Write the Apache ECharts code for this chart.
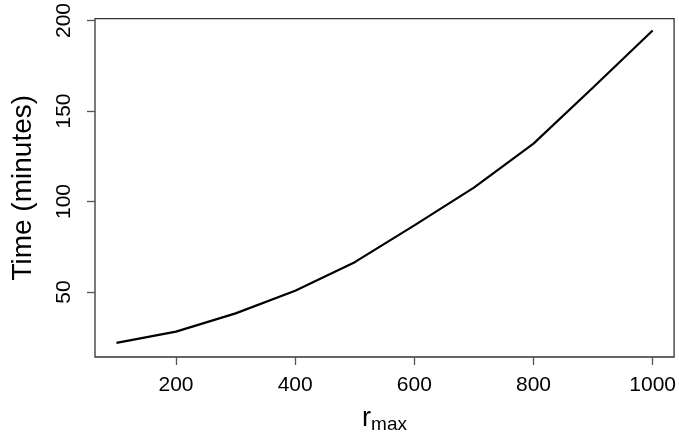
<!DOCTYPE html>
<html>
<head>
<meta charset="utf-8">
<script src="https://cdn.jsdelivr.net/npm/echarts@6/dist/echarts.min.js"></script>
<style>
html,body{margin:0;padding:0;background:#fff;}
#main{width:679px;height:439px;}
</style>
</head>
<body>
<div id="main"></div>
<script>
var rmax = [100, 200, 300, 400, 500, 600, 700, 800, 900, 1000];
var timeMin = [21.9, 28.1, 38.2, 50.7, 66.5, 86.8, 107.7, 132, 163, 194.5];
var xTicks = [200, 400, 600, 800, 1000];
var yTicks = [50, 100, 150, 200];

var font = 'Liberation Sans, Arial, sans-serif';
var myChart = echarts.init(document.getElementById('main'));
var option = {
	backgroundColor: '#fff',
	animation: false,
	grid: {
		left: 95, top: 18, right: 4, bottom: 82,
		show: true, borderColor: '#333', borderWidth: 1.3
	},
	xAxis: {
		type: 'value',
		min: 64, max: 1036,
		name: '{r|r}{s|max}',
		nameLocation: 'middle',
		nameGap: 46,
		nameTextStyle: {
			rich: {
				r: {fontSize: 27, fontFamily: font, color: '#000'},
				s: {fontSize: 19, fontFamily: font, color: '#000', padding: [12, 0, 0, 0]}
			}
		},
		axisLine: {show: false},
		splitLine: {show: false},
		axisTick: {show: true, length: 8, customValues: xTicks, lineStyle: {color: '#555', width: 1.3}},
		axisLabel: {
			customValues: xTicks, fontSize: 21, fontFamily: font, color: '#000', margin: 18,
			formatter: function (v) { return String(v); }
		}
	},
	yAxis: {
		type: 'value',
		min: 14.1, max: 201.1,
		name: 'Time (minutes)',
		nameLocation: 'middle',
		nameGap: 58,
		nameTextStyle: {fontSize: 28, fontFamily: font, color: '#000'},
		axisLine: {show: false},
		splitLine: {show: false},
		axisTick: {show: true, length: 8, customValues: yTicks, lineStyle: {color: '#555', width: 1.3}},
		axisLabel: {
			customValues: yTicks, rotate: 90, fontSize: 21, fontFamily: font, color: '#000', margin: 20,
			formatter: function (v) { return String(v); }
		}
	},
	series: [{
		type: 'line',
		data: rmax.map(function (x, i) { return [x, timeMin[i]]; }),
		symbol: 'none',
		lineStyle: {color: '#000', width: 2.2}
	}]
};
myChart.setOption(option);
</script>
</body>
</html>
